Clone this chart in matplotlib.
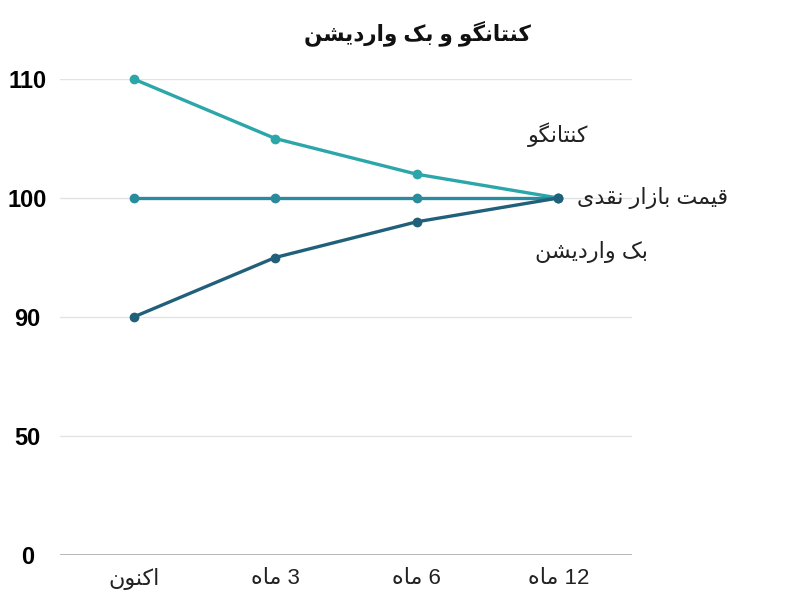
import matplotlib
matplotlib.use('Agg')
import matplotlib.pyplot as plt
import numpy as np


# Data
categories = ['اکنون', '3 ماه', '6 ماه', '12 ماه']
contango = [110, 105, 102, 100]
spot = [100, 100, 100, 100]
backwardation = [90, 95, 98, 100]
y_ticks = [0, 50, 90, 100, 110]
title_text = 'کنتانگو و بک واردیشن'
series_names = ['کنتانگو', 'قیمت بازار نقدی', 'بک واردیشن']

colors = ['#2ba6a9', '#2a8b9d', '#21607a']

# Minimal Persian shaping (presentation forms) + visual reordering
# forms: isolated, final, initial, medial (None = non-left-joining)
FORMS = {
    'ا': ('\uFE8D', '\uFE8E', None, None),
    'ب': ('\uFE8F', '\uFE90', '\uFE91', '\uFE92'),
    'ت': ('\uFE95', '\uFE96', '\uFE97', '\uFE98'),
    'د': ('\uFEA9', '\uFEAA', None, None),
    'ر': ('\uFEAD', '\uFEAE', None, None),
    'ز': ('\uFEAF', '\uFEB0', None, None),
    'ش': ('\uFEB5', '\uFEB6', '\uFEB7', '\uFEB8'),
    'ق': ('\uFED5', '\uFED6', '\uFED7', '\uFED8'),
    'م': ('\uFEE1', '\uFEE2', '\uFEE3', '\uFEE4'),
    'ن': ('\uFEE5', '\uFEE6', '\uFEE7', '\uFEE8'),
    'ه': ('\uFEE9', '\uFEEA', '\uFEEB', '\uFEEC'),
    'و': ('\uFEED', '\uFEEE', None, None),
    'ک': ('\uFB8E', '\uFB8F', '\uFB90', '\uFB91'),
    'گ': ('\uFB92', '\uFB93', '\uFB94', '\uFB95'),
    'ی': ('\uFBFC', '\uFBFD', '\uFBFE', '\uFBFF'),
}


def joins_left(c):
    return c in FORMS and FORMS[c][2] is not None


def shape_word(word):
    out = []
    for i, c in enumerate(word):
        if c not in FORMS:
            out.append(c)
            continue
        prev_joins = i > 0 and joins_left(word[i - 1])
        next_joins = i < len(word) - 1 and word[i + 1] in FORMS and joins_left(c)
        iso, fin, ini, med = FORMS[c]
        if prev_joins and next_joins:
            out.append(med)
        elif prev_joins:
            out.append(fin)
        elif next_joins:
            out.append(ini)
        else:
            out.append(iso)
    return ''.join(out)


def fa(text):
    # shape each word, then reverse word order and letters (digits kept LTR)
    words = text.split(' ')
    vis = []
    for w in words:
        if w.isdigit():
            vis.append(w)
        else:
            vis.append(shape_word(w)[::-1])
    return ' '.join(vis[::-1])


plt.rcParams['font.family'] = ['Liberation Sans', 'DejaVu Sans']

# y axis: evenly spaced ticks
def fwd(y):
    return np.interp(y, y_ticks, np.arange(len(y_ticks)))


def inv(p):
    return np.interp(p, np.arange(len(y_ticks)), y_ticks)


fig = plt.figure(figsize=(8.04, 6.04), dpi=100)
ax = fig.add_axes([60 / 804, 49 / 604, 572 / 804, 476 / 604])
ax.set_yscale('function', functions=(fwd, inv))
ax.set_ylim(0, 110)
ax.set_xlim(-0.52, 3.52)

x = np.arange(len(categories))
for vals, c in zip([contango, spot, backwardation], colors):
    ax.plot(x, vals, color=c, linewidth=2.4, marker='o', markersize=6,
            clip_on=False, zorder=3)

ax.set_yticks(y_ticks)
ax.set_yticklabels([str(v) for v in y_ticks],
                   fontsize=17, fontweight='bold', ha='center',
                   family=['Liberation Sans Narrow', 'Liberation Sans'])
ax.yaxis.set_minor_locator(plt.NullLocator())
ax.set_xticks(x)
ax.set_xticklabels([fa(c) for c in categories], fontsize=16, color='#222222')
ax.tick_params(axis='both', length=0)
ax.tick_params(axis='y', pad=23.5)
ax.tick_params(axis='x', pad=9)

for v in y_ticks:
    ax.axhline(v, color='#aaaaaa' if v == 0 else '#e3e3e3',
               linewidth=1.2 if v == 0 else 1.0, zorder=1)

for s in ax.spines.values():
    s.set_visible(False)

# series labels on the right
ax.text(3.0, 105.3, fa(series_names[0]), fontsize=16, ha='center', va='center',
        color='#222222')
ax.text(3.13, 100, fa(series_names[1]), fontsize=16, ha='left', va='center',
        color='#222222')
ax.text(3.23, 95.5, fa(series_names[2]), fontsize=16, ha='center', va='center',
        color='#222222')

fig.text(417 / 804, 1 - 33 / 604, fa(title_text), fontsize=15.5, fontweight='bold',
         ha='center', va='center', color='#111111')

fig.savefig('out.png', dpi=100)
